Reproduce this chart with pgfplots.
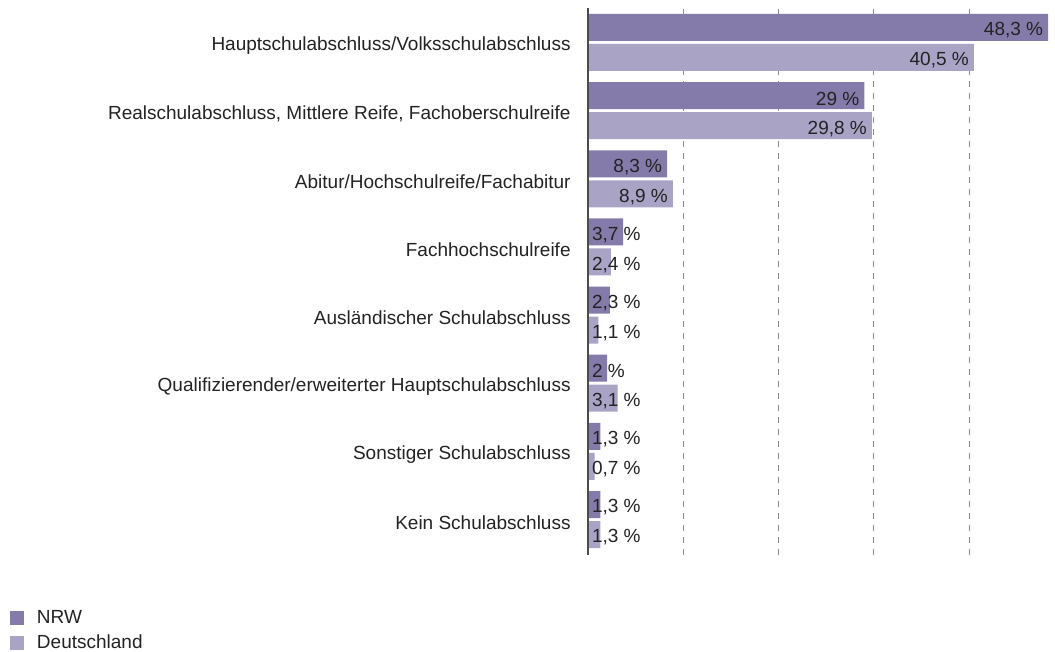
\documentclass[border=0pt]{standalone}
\usepackage{fontspec}
\setmainfont{Liberation Sans}
\usepackage{pgfplots}
\usepackage{pgfplotstable}
\pgfplotsset{compat=1.18}

\definecolor{nrw}{RGB}{133,123,170}
\definecolor{de}{RGB}{169,163,198}
\definecolor{txt}{RGB}{35,35,35}

% category 7 = top row
\pgfplotstableread{
y nrw de
7 48.3 40.5
6 29.0 29.8
5 8.3 8.9
4 3.7 2.4
3 2.3 1.1
2 2.0 3.1
1 1.3 0.7
0 1.3 1.3
}\data

\pgfplotsset{
  sqlegend/.style={legend image code/.code={\fill (0pt,-3.5pt) rectangle (7pt,3.5pt);}},
  barlab/.style={nodes near coords={\pgfmathprintnumber{\pgfplotspointmeta}~\%},
    every node near coord/.append style={font=\fontsize{9.5}{11}\selectfont, text=txt}},
}

\begin{document}
\begin{tikzpicture}
\useasboundingbox (0,0) rectangle (527.5pt,326pt);
\begin{axis}[
  at={(294pt,48.5pt)}, anchor=south west,
  scale only axis, width=231pt, height=273.5pt,
  xmin=0, xmax=48.5, ymin=-0.52, ymax=7.506,
  axis line style={draw=none},
  xtick={10,20,30,40}, xticklabels={},
  xmajorgrids, grid style={dashed, draw=black!45, line width=0.4pt},
  ytick={0,...,7},
  yticklabels={Kein Schulabschluss, Sonstiger Schulabschluss,
    Qualifizierender/erweiterter Hauptschulabschluss,
    Ausländischer Schulabschluss, Fachhochschulreife,
    Abitur/Hochschulreife/Fachabitur,
    {Realschulabschluss, Mittlere Reife, Fachoberschulreife},
    Hauptschulabschluss/Volksschulabschluss},
  major tick length=0pt, tick style={draw=none},
  yticklabel style={inner sep=0pt, xshift=-8.5pt, yshift=-1.5pt, text=txt},
  font=\fontsize{9.5}{11}\selectfont,
  /pgf/number format/assume math mode=true,
  /pgf/number format/use comma,
  clip=false,
  legend style={at={(-1.2511,-0.1005)}, anchor=north west, draw=none, fill=none,
    inner sep=0pt, outer sep=0pt, row sep=4.5pt, text=txt,
    nodes={inner sep=0pt, outer sep=0pt}, column sep=6.5pt},
  legend cell align=left,
]
\addplot[xbar, bar width=13.5pt, bar shift=7.5pt, fill=nrw, draw=none, sqlegend]
  table[x=nrw, y=y] {\data};
\addlegendentry{NRW}
\addplot[xbar, bar width=13.5pt, bar shift=-7.5pt, fill=de, draw=none, sqlegend]
  table[x=de, y=y] {\data};
\addlegendentry{Deutschland}

% axis line at 0
\addplot[black!70, line width=0.8pt, forget plot] coordinates {(0,-0.52) (0,7.506)};

% value labels: inside the bar end when they fit, else from the axis
\addplot[draw=none, forget plot, barlab, point meta=x,
  every node near coord/.append style={anchor=east, inner sep=2.3pt, yshift=6pt}]
  coordinates {(48.3,7) (29,6) (8.3,5)};
\addplot[draw=none, forget plot, barlab, point meta=explicit,
  every node near coord/.append style={anchor=west, inner sep=1.8pt, yshift=6pt}]
  coordinates {(0,4) [3.7] (0,3) [2.3] (0,2) [2] (0,1) [1.3] (0,0) [1.3]};
\addplot[draw=none, forget plot, barlab, point meta=x,
  every node near coord/.append style={anchor=east, inner sep=2.3pt, yshift=-9pt}]
  coordinates {(40.5,7) (29.8,6) (8.9,5)};
\addplot[draw=none, forget plot, barlab, point meta=explicit,
  every node near coord/.append style={anchor=west, inner sep=1.8pt, yshift=-9pt}]
  coordinates {(0,4) [2.4] (0,3) [1.1] (0,2) [3.1] (0,1) [0.7] (0,0) [1.3]};
\end{axis}
\end{tikzpicture}
\end{document}
